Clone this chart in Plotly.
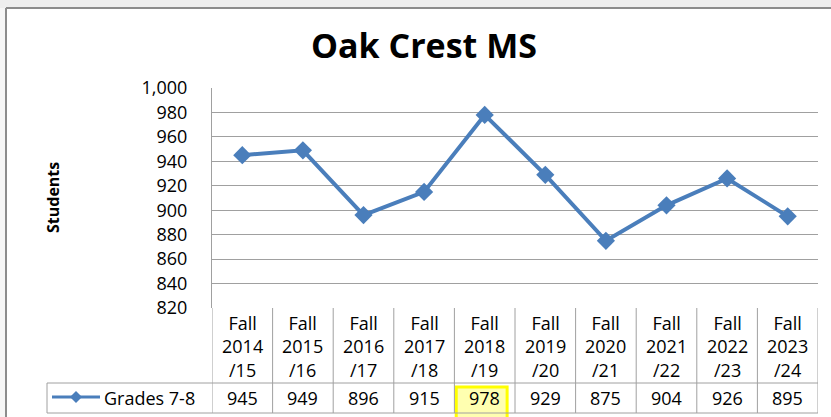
import plotly.graph_objects as go

# ---- data ----
categories = ["Fall<br>2014<br>/15", "Fall<br>2015<br>/16", "Fall<br>2016<br>/17", "Fall<br>2017<br>/18",
              "Fall<br>2018<br>/19", "Fall<br>2019<br>/20", "Fall<br>2020<br>/21", "Fall<br>2021<br>/22",
              "Fall<br>2022<br>/23", "Fall<br>2023<br>/24"]
series_name = "Grades 7-8"
values = [945, 949, 896, 915, 978, 929, 875, 904, 926, 895]
y_ticks = [820, 840, 860, 880, 900, 920, 940, 960, 980, 1000]
highlight_index = 4
title = "Oak Crest MS"
y_title = "Students"

# ---- layout geometry (pixels) ----
W, H = 831, 417
PL, PR, PT, PB = 212, 818, 88, 308      # plot area
HDR_B, TBL_B, LEG_L = 383, 413, 47        # table rows
FONT = "Open Sans"
LINE_COLOR = "#4a7ebb"
GRID = "#a0a0a0"
TXT = "#000000"

def px(x):
    return x / W

def py(y):
    return 1 - y / H

n = len(values)
xs = list(range(n))

fig = go.Figure()
fig.add_trace(go.Scatter(
    x=xs, y=values, mode="lines+markers", name=series_name,
    line=dict(color=LINE_COLOR, width=4),
    marker=dict(symbol="diamond", size=14, color=LINE_COLOR),
    showlegend=False, hoverinfo="skip",
))

shapes = []
# outer frame & background strips
shapes.append(dict(type="rect", xref="paper", yref="paper", x0=0, x1=1, y0=py(8), y1=1,
                   fillcolor="#eeeeee", line=dict(width=0), layer="below"))
shapes.append(dict(type="rect", xref="paper", yref="paper", x0=0, x1=px(6), y0=0, y1=py(8),
                   fillcolor="#f6f6f6", line=dict(width=0), layer="below"))
shapes.append(dict(type="line", xref="paper", yref="paper", x0=px(6), x1=1, y0=py(8), y1=py(8),
                   line=dict(color="#8c8c8c", width=2)))
shapes.append(dict(type="line", xref="paper", yref="paper", x0=px(6), x1=px(6), y0=0, y1=py(8),
                   line=dict(color="#8c8c8c", width=2)))

# highlight box
shapes.append(dict(type="rect", xref="x", yref="paper",
                   x0=highlight_index - 0.47, x1=highlight_index + 0.37,
                   y0=py(419), y1=py(387),
                   fillcolor="#ffffb0", line=dict(color="#ffff00", width=3), layer="below"))

# table grid
for i in range(n + 1):
    shapes.append(dict(type="line", xref="x", yref="paper", x0=i - 0.5, x1=i - 0.5,
                       y0=py(TBL_B), y1=py(PB), line=dict(color=GRID, width=1)))
shapes.append(dict(type="line", xref="paper", yref="paper", x0=px(LEG_L), x1=px(LEG_L),
                   y0=py(TBL_B), y1=py(HDR_B), line=dict(color=GRID, width=1)))
for yy in (HDR_B, TBL_B):
    shapes.append(dict(type="line", xref="paper", yref="paper", x0=px(LEG_L), x1=px(PR),
                       y0=py(yy), y1=py(yy), line=dict(color=GRID, width=1)))

# legend key in table
ly = 397
shapes.append(dict(type="line", xref="paper", yref="paper", x0=px(52), x1=px(100),
                   y0=py(ly), y1=py(ly), line=dict(color=LINE_COLOR, width=3)))
cx, s = 76, 6
shapes.append(dict(type="path", xref="paper", yref="paper",
                   path=f"M {px(cx)} {py(ly - s)} L {px(cx + s)} {py(ly)} L {px(cx)} {py(ly + s)} L {px(cx - s)} {py(ly)} Z",
                   fillcolor=LINE_COLOR, line=dict(color=LINE_COLOR, width=0)))

annotations = []
for i, lab in enumerate(categories):
    annotations.append(dict(x=i, xref="x", y=py(346), yref="paper", text=lab, showarrow=False,
                            font=dict(family=FONT, size=18, color=TXT), xanchor="center", yanchor="middle"))
for i, v in enumerate(values):
    annotations.append(dict(x=i, xref="x", y=py(398), yref="paper", text=str(v), showarrow=False,
                            font=dict(family=FONT, size=18, color=TXT), xanchor="center", yanchor="middle"))
annotations.append(dict(x=px(102), xref="paper", y=py(398), yref="paper", text=series_name, showarrow=False,
                        font=dict(family=FONT, size=18, color=TXT), xanchor="left", yanchor="middle"))
annotations.append(dict(x=px(53), xref="paper", y=py(198), yref="paper", text=f"<b>{y_title}</b>",
                        showarrow=False, textangle=-90,
                        font=dict(family=FONT, size=16, color=TXT), xanchor="center", yanchor="middle"))

fig.update_layout(
    width=W, height=H, margin=dict(l=0, r=0, t=0, b=0, autoexpand=False),
    paper_bgcolor="white", plot_bgcolor="white",
    title=dict(text=f"<b>{title}</b>", x=px(424), y=py(46), xanchor="center", yanchor="middle",
               font=dict(family=FONT, size=34, color=TXT)),
    xaxis=dict(domain=[px(PL), px(PR)], range=[-0.5, n - 0.5], showticklabels=False,
               showgrid=False, zeroline=False, showline=False, fixedrange=True, automargin=False),
    yaxis=dict(domain=[py(PB), py(PT)], range=[y_ticks[0], y_ticks[-1]], tickvals=y_ticks,
               tickformat=",", showgrid=True, gridcolor=GRID, gridwidth=1, zeroline=False,
               showline=True, linecolor=GRID, linewidth=1, ticks="", ticklabelstandoff=20,
               tickfont=dict(family=FONT, size=18, color=TXT), automargin=False, fixedrange=True),
    shapes=shapes, annotations=annotations, showlegend=False,
)

fig.write_html(
    "out.html",
    config={"displayModeBar": False, "staticPlot": True},
    post_script="document.body.style.margin='0';document.body.style.overflow='hidden';"
                "document.documentElement.style.overflow='hidden';",
)
